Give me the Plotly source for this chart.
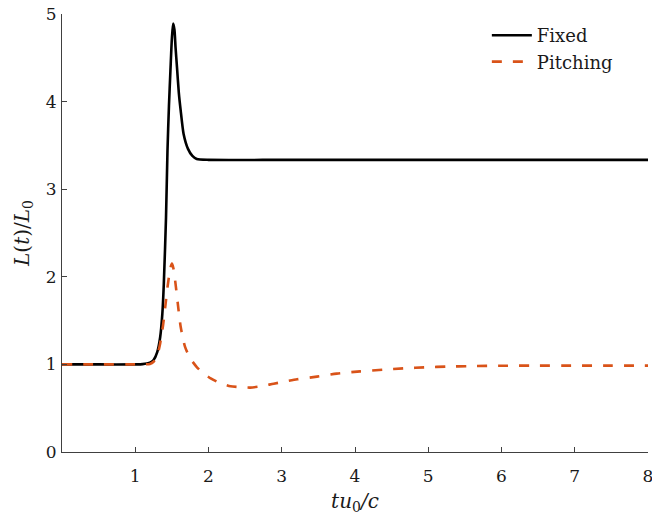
import plotly.graph_objects as go

# Fixed wing: lift ratio
fixed_x = [0.0, 0.5, 1.0, 1.1, 1.2, 1.25, 1.30, 1.34, 1.37, 1.39, 1.42, 1.44, 1.46, 1.48, 1.50, 1.517,
           1.535, 1.55, 1.57, 1.595, 1.62, 1.66, 1.72, 1.78, 1.84, 2.0, 3.0, 4.0, 5.0, 6.0, 7.0, 8.0]
fixed_y = [1.0, 1.0, 1.0, 1.003, 1.02, 1.05, 1.14, 1.31, 1.58, 1.92, 2.68, 3.44, 3.95, 4.35, 4.72, 4.89,
           4.82, 4.62, 4.39, 4.10, 3.90, 3.63, 3.46, 3.38, 3.345, 3.335, 3.335, 3.335, 3.335, 3.335, 3.335, 3.335]

# Pitching wing: lift ratio
pitch_x = [0.0, 0.5, 1.0, 1.1, 1.2, 1.25, 1.30, 1.34, 1.38, 1.41, 1.44, 1.46, 1.48, 1.50, 1.52, 1.55,
           1.58, 1.62, 1.68, 1.75, 1.84, 1.93, 2.03, 2.15, 2.30, 2.45, 2.57, 2.72, 2.89, 3.05, 3.21, 3.48,
           3.75, 4.07, 4.39, 4.66, 4.98, 5.25, 5.57, 6.0, 6.5, 7.0, 7.5, 8.0]
pitch_y = [1.0, 1.0, 1.0, 1.0, 1.005, 1.03, 1.10, 1.24, 1.45, 1.66, 1.88, 2.0, 2.10, 2.15, 2.10, 1.92,
           1.70, 1.43, 1.20, 1.07, 0.97, 0.90, 0.84, 0.79, 0.75, 0.74, 0.735, 0.75, 0.78, 0.805, 0.83, 0.86,
           0.895, 0.92, 0.94, 0.955, 0.967, 0.975, 0.98, 0.985, 0.986, 0.986, 0.986, 0.986]

x_ticks = [1, 2, 3, 4, 5, 6, 7, 8]
y_ticks = [0, 1, 2, 3, 4, 5]

serif = "DejaVu Serif"

fig = go.Figure()
fig.add_trace(go.Scatter(x=fixed_x, y=fixed_y, mode="lines", name="Fixed",
                         line=dict(color="black", width=2.6, shape="spline", smoothing=0.6)))
fig.add_trace(go.Scatter(x=pitch_x, y=pitch_y, mode="lines", name="Pitching",
                         line=dict(color="#D95319", width=2.6, dash="10px,11px", shape="spline", smoothing=0.6)))

axis_common = dict(showgrid=False, zeroline=False, showline=True, linecolor="#404040", linewidth=1,
                   ticks="inside", ticklen=5, tickcolor="#404040", tickwidth=1,
                   tickfont=dict(family=serif, size=17, color="#1a1a1a"), mirror=False,
                   ticklabeloverflow="allow", automargin=False)

fig.update_layout(
    width=652, height=519,
    margin=dict(l=62, r=4, t=14, b=67),
    plot_bgcolor="white", paper_bgcolor="white",
    font=dict(family=serif),
    xaxis=dict(range=[0, 8], tickvals=x_ticks, ticktext=[str(v) for v in x_ticks],
               title=dict(text="<i>tu</i><sub>0</sub><i>/c</i>", font=dict(family=serif, size=20, color="#1a1a1a"),
                          standoff=8),
               ticklabelstandoff=9, **axis_common),
    yaxis=dict(range=[0, 5], tickvals=y_ticks, ticktext=[str(v) for v in y_ticks],
               title=dict(text="<i>L</i>(<i>t</i>)/<i>L</i><sub>0</sub>", font=dict(family=serif, size=20, color="#1a1a1a"),
                          standoff=10),
               ticklabelstandoff=1, **axis_common),
    legend=dict(x=0.725, y=0.993, xanchor="left", yanchor="top", bgcolor="rgba(0,0,0,0)",
                font=dict(family=serif, size=18, color="#1a1a1a"), itemwidth=40, tracegroupgap=0),
    showlegend=True,
)

fig.write_html("out.html")
